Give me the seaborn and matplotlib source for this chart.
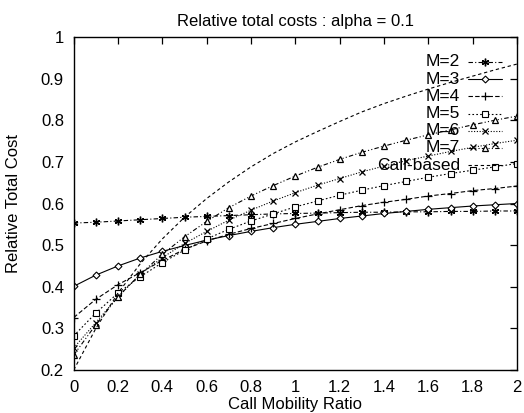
import numpy as np
import pandas as pd
import matplotlib
matplotlib.use("Agg")
import matplotlib.pyplot as plt
from matplotlib.lines import Line2D
import seaborn as sns

# ---- data ----
ratio = [0.0, 0.1, 0.2, 0.3, 0.4, 0.5, 0.6, 0.7, 0.8, 0.9, 1.0,
         1.1, 1.2, 1.3, 1.4, 1.5, 1.6, 1.7, 1.8, 1.9, 2.0]
m2 = [0.553, 0.555, 0.558, 0.561, 0.564, 0.567, 0.569, 0.571, 0.573, 0.575, 0.576,
      0.577, 0.578, 0.579, 0.579, 0.580, 0.580, 0.581, 0.581, 0.582, 0.582]
m3 = [0.401, 0.428, 0.450, 0.469, 0.485, 0.499, 0.512, 0.523, 0.533, 0.542, 0.550,
      0.557, 0.564, 0.570, 0.576, 0.581, 0.586, 0.590, 0.594, 0.597, 0.600]
m4 = [0.326, 0.370, 0.405, 0.434, 0.463, 0.490, 0.510, 0.526, 0.540, 0.552, 0.564,
      0.575, 0.585, 0.595, 0.603, 0.610, 0.618, 0.624, 0.631, 0.636, 0.642]
m5 = [0.282, 0.337, 0.385, 0.424, 0.458, 0.488, 0.515, 0.538, 0.558, 0.575, 0.592,
      0.606, 0.620, 0.632, 0.643, 0.653, 0.663, 0.672, 0.680, 0.688, 0.696]
m6 = [0.253, 0.314, 0.376, 0.430, 0.470, 0.504, 0.533, 0.560, 0.584, 0.606, 0.626,
      0.644, 0.660, 0.676, 0.690, 0.703, 0.714, 0.725, 0.735, 0.744, 0.752]
m7 = [0.236, 0.309, 0.376, 0.430, 0.478, 0.520, 0.557, 0.590, 0.618, 0.643, 0.666,
      0.687, 0.706, 0.723, 0.738, 0.752, 0.765, 0.777, 0.789, 0.800, 0.810]
call_based = [0.200, 0.300, 0.385, 0.455, 0.515, 0.567, 0.612, 0.652, 0.688, 0.720, 0.748,
              0.773, 0.797, 0.820, 0.840, 0.858, 0.875, 0.891, 0.906, 0.921, 0.935]

series_names = ["M=2", "M=3", "M=4", "M=5", "M=6", "M=7", "Call-based"]
series_values = [m2, m3, m4, m5, m6, m7, call_based]

x_ticks = [0, 0.2, 0.4, 0.6, 0.8, 1.0, 1.2, 1.4, 1.6, 1.8, 2.0]
x_tick_labels = ["0", "0.2", "0.4", "0.6", "0.8", "1", "1.2", "1.4", "1.6", "1.8", "2"]
y_ticks = [0.2, 0.3, 0.4, 0.5, 0.6, 0.7, 0.8, 0.9, 1.0]
y_tick_labels = ["0.2", "0.3", "0.4", "0.5", "0.6", "0.7", "0.8", "0.9", "1"]

title = "Relative total costs : alpha = 0.1"
x_label = "Call Mobility Ratio"
y_label = "Relative Total Cost"

# ---- styles ----
asterisk = (6, 2, 0)
styles = {
    "M=2": dict(linestyle=(0, (4, 2, 1, 2)), marker=asterisk, markersize=5.5, mew=1.0),
    "M=3": dict(linestyle="-", marker="D", markersize=3.5, mfc="white", mew=0.8),
    "M=4": dict(linestyle=(0, (4, 2)), marker="+", markersize=6, mew=0.9),
    "M=5": dict(linestyle=(0, (1.5, 2)), marker="s", markersize=4.5, mfc="white", mew=0.8),
    "M=6": dict(linestyle=(0, (1, 1.5)), marker="x", markersize=4.5, mew=0.9),
    "M=7": dict(linestyle=(0, (4, 2, 1, 2, 1, 2)), marker="^", markersize=4.5, mfc="white", mew=0.9),
    "Call-based": dict(linestyle=(0, (3, 2.5)), marker=None),
}

sns.set_theme(style="white")
plt.rcParams["font.family"] = ["Liberation Sans", "DejaVu Sans"]

W, H = 524, 413
fig = plt.figure(figsize=(W / 100, H / 100), dpi=100)
ax = fig.add_axes([73.7 / W, 1 - 370 / H, (517 - 73.7) / W, (370 - 37) / H])

for name, vals in zip(series_names, series_values):
    df = pd.DataFrame({"ratio": ratio, "cost": vals})
    sns.lineplot(data=df, x="ratio", y="cost", ax=ax, color="black",
                 linewidth=0.8, mec="black", legend=False, **styles[name])

ax.set_xlim(0, 2)
ax.set_ylim(0.2, 1.0)
ax.set_xticks(x_ticks)
ax.set_xticklabels(x_tick_labels)
ax.set_yticks(y_ticks)
ax.set_yticklabels(y_tick_labels)
ax.tick_params(direction="in", length=5, width=0.9, color="black",
               top=True, right=True, labelsize=12, pad=7, labelcolor="black")
for s in ax.spines.values():
    s.set_visible(True)
    s.set_color("black")
    s.set_linewidth(1.0)

ax.set_title(title, fontsize=12, pad=8, color="black")
ax.set_xlabel(x_label, fontsize=12, labelpad=2, color="black")
ax.set_ylabel(y_label, fontsize=12, labelpad=14, color="black")

# gnuplot-style legend: right-aligned labels, sample line to the right
text_right = 460 / W
line_x0, line_x1 = 468 / W, 502 / W
for i, name in enumerate(series_names):
    yc = 1 - (62 + i * 17.2) / H
    fig.text(text_right, yc, name, ha="right", va="center", fontsize=12.5, color="black")
    st = dict(styles[name])
    fig.add_artist(Line2D([line_x0, line_x1], [yc, yc], transform=fig.transFigure,
                          color="black", linewidth=0.8,
                          linestyle=st.pop("linestyle")))
    if st.get("marker"):
        fig.add_artist(Line2D([(line_x0 + line_x1) / 2], [yc], transform=fig.transFigure,
                              color="black", linestyle="none", mec="black", **st))

fig.savefig("out.png", dpi=100)
